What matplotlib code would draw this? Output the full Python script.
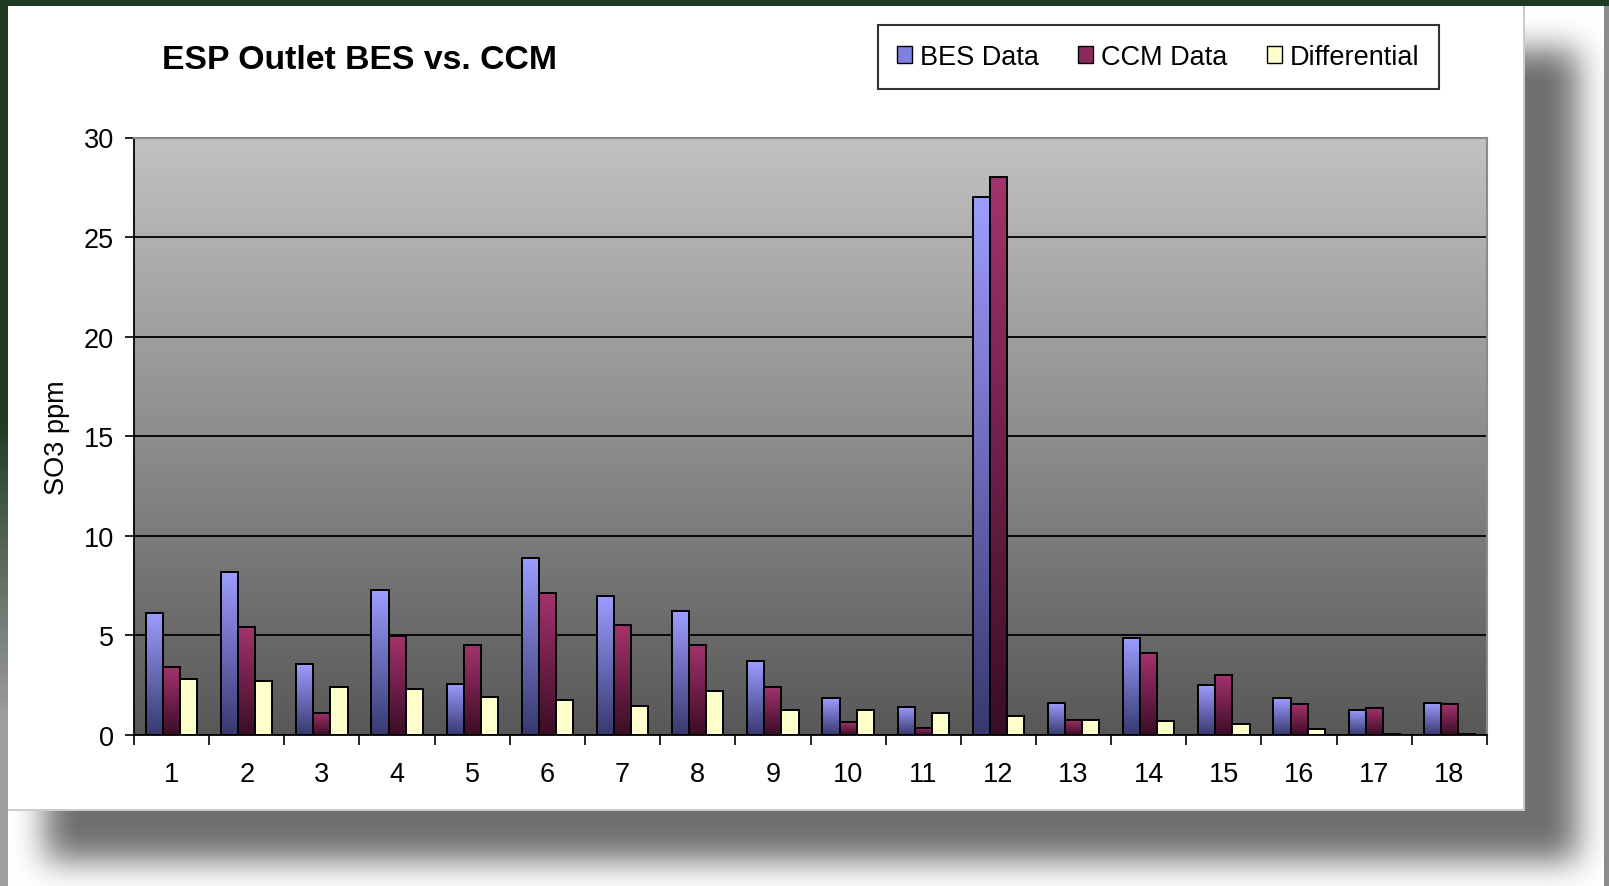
import numpy as np
import matplotlib
matplotlib.use('Agg')
import matplotlib.pyplot as plt
from matplotlib.colors import LinearSegmentedColormap
from matplotlib.patches import Patch

plt.rcParams['font.family'] = ['Liberation Sans', 'DejaVu Sans']

categories = [str(i) for i in range(1, 19)]
bes_data = [6.14, 8.16, 3.55, 7.27, 2.58, 8.91, 6.96, 6.22, 3.71,
            1.84, 1.42, 27.0, 1.61, 4.85, 2.49, 1.84, 1.27, 1.61]
ccm_data = [3.39, 5.42, 1.12, 4.97, 4.53, 7.12, 5.50, 4.53, 2.42,
            0.64, 0.37, 28.0, 0.77, 4.11, 2.99, 1.54, 1.35, 1.54]
differential = [2.81, 2.73, 2.42, 2.32, 1.92, 1.76, 1.44, 2.22, 1.25,
                1.25, 1.12, 0.95, 0.77, 0.70, 0.54, 0.28, 0.07, 0.05]
y_ticks = [0, 5, 10, 15, 20, 25, 30]

W, H = 1609, 887


def box_blur(a, r):
    # separable box blur, run twice for a soft shadow
    k = np.ones(2 * r + 1) / (2 * r + 1)
    for _ in range(2):
        a = np.apply_along_axis(lambda m: np.convolve(m, k, mode='same'), 0, a)
        a = np.apply_along_axis(lambda m: np.convolve(m, k, mode='same'), 1, a)
    return a


def make_background():
    img = np.ones((H, W, 3))
    mask = np.zeros((H, W))
    mask[50:862, 45:1578] = 1.0
    mask = box_blur(mask, 18)
    img *= (1 - 0.56 * mask)[:, :, None]
    green = np.array([0.12, 0.23, 0.13])
    grey = np.array([0.62, 0.62, 0.62])
    img[0:7, :, :] = green
    t = np.clip((np.arange(H) - 420) / 300.0, 0, 1)[:, None]
    img[:, 0:8, :] = (green * (1 - t) + grey * t)[:, None, :]
    img[7:, 1604:, :] = 0.55
    img[7:812, 8:1525, :] = 1.0
    img[810:812, 8:1525, :] = 0.8
    img[7:812, 1523:1525, :] = 0.8
    return img


fig = plt.figure(figsize=(W / 100, H / 100), dpi=100)
fig.figimage(make_background(), xo=0, yo=0, origin='upper', zorder=-5)

ax = fig.add_axes([134 / W, (H - 736) / H, (1487 - 134) / W, (736 - 138.5) / H])
ax.set_facecolor('none')
ax.set_xlim(-0.5, len(categories) - 0.5)
ax.set_ylim(0, 30)

# plot area gradient
bg_cmap = LinearSegmentedColormap.from_list('bg', ['#585858', '#c2c2c2'])
ax.imshow(np.linspace(0, 1, 256).reshape(-1, 1), cmap=bg_cmap, origin='lower',
          extent=[-0.5, len(categories) - 0.5, 0, 30], aspect='auto', zorder=0)

ax.set_axisbelow(True)
ax.yaxis.grid(True, color='black', linewidth=1.3)

x = np.arange(len(categories))
w = 0.227
bes_cmap = LinearSegmentedColormap.from_list('bes', ['#383870', '#6a6ab8', '#9d9dff'])
ccm_cmap = LinearSegmentedColormap.from_list('ccm', ['#3a0d26', '#701f4a', '#a3336c'])
grad = np.linspace(0, 1, 256).reshape(-1, 1)

for vals, offset, cmap in [(bes_data, -w, bes_cmap), (ccm_data, 0, ccm_cmap)]:
    bars = ax.bar(x + offset, vals, w, facecolor='none', edgecolor='black',
                  linewidth=1.4, zorder=3)
    for b in bars:
        im = ax.imshow(grad, cmap=cmap, origin='lower', aspect='auto', zorder=2,
                       extent=[b.get_x(), b.get_x() + b.get_width(), 0, b.get_height()])
        im.set_clip_path(b)

ax.bar(x + w, differential, w, facecolor='#ffffcc', edgecolor='black',
       linewidth=1.4, zorder=3)

ax.set_xlim(-0.5, len(categories) - 0.5)
ax.set_ylim(0, 30)

ax.set_xticks(x)
ax.set_xticklabels(categories, fontsize=19.5)
ax.set_xticks(np.arange(-0.5, len(categories)), minor=True)
ax.tick_params(axis='x', which='major', length=0, pad=19)
ax.tick_params(axis='x', which='minor', length=7, width=1.2, direction='out')
ax.set_yticks(y_ticks)
ax.tick_params(axis='y', length=6.5, width=1.2, labelsize=19.5, pad=8)

for s in ['left', 'bottom']:
    ax.spines[s].set_color('black')
    ax.spines[s].set_linewidth(1.3)
for s in ['top', 'right']:
    ax.spines[s].set_color('#8a8a8a')
    ax.spines[s].set_linewidth(1.5)

ax.set_ylabel('SO3 ppm', fontsize=19.5, labelpad=10)

fig.text(162 / W, 1 - 61 / H, 'ESP Outlet BES vs. CCM', fontsize=24.3,
         fontweight='bold', ha='left', va='center')

handles = [Patch(facecolor='#8080e0', edgecolor='black', label='BES Data'),
           Patch(facecolor='#8a2a5c', edgecolor='black', label='CCM Data'),
           Patch(facecolor='#ffffcc', edgecolor='black', label='Differential')]
leg = fig.legend(handles=handles, loc='upper left', bbox_to_anchor=(878 / W, 1 - 26 / H),
                 ncol=3, fontsize=19.5, frameon=True, fancybox=False,
                 handlelength=0.55, handleheight=0.55, handletextpad=0.3,
                 columnspacing=1.45, borderpad=0.7, borderaxespad=0)
leg.get_frame().set_edgecolor('black')
leg.get_frame().set_linewidth(1.5)

plt.savefig('out.png', dpi=100)
